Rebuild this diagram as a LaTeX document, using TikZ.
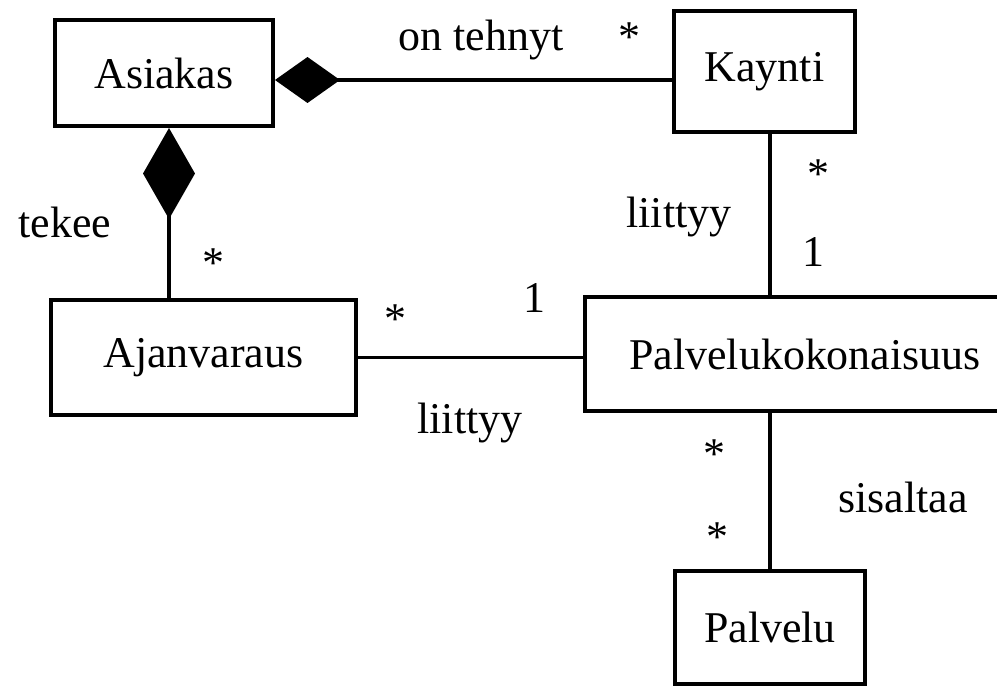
\documentclass[tikz,border=0pt]{standalone}
\usepackage{fontspec}
\setmainfont{Liberation Serif}
\usetikzlibrary{arrows.meta}

\begin{document}
\begin{tikzpicture}[
    x=0.02cm, y=-0.02cm,
    every node/.style={font=\fontsize{25}{30}\selectfont},
    box/.style={rectangle, draw, line width=2.3pt, inner sep=0pt},
    assoc/.style={line width=2.2pt},
    comph/.style={-{Diamond[length=1.3cm, width=0.92cm]}},
    compv/.style={-{Diamond[length=1.82cm, width=1.04cm]}},
    lbl/.style={anchor=base, inner sep=0pt}
]
\path[use as bounding box, clip] (0,0) rectangle (997,687);

% Classes
\node[box, minimum width=4.36cm, minimum height=2.12cm] (asiakas) at (164,73) {Asiakas};
\node[box, minimum width=3.62cm, minimum height=2.42cm] (kaynti) at (764.5,71.5) {Kaynti};
\node[box, minimum width=6.1cm, minimum height=2.3cm] (ajanvaraus) at (203.5,357.5) {Ajanvaraus};
\node[box, minimum width=8.8cm, minimum height=2.28cm] (pk) at (805,354) {Palvelukokonaisuus};
\node[box, minimum width=3.8cm, minimum height=2.26cm] (palvelu) at (770,627.5) {Palvelu};

% Associations
\draw[assoc, comph] ([yshift=-0.14cm]asiakas.east -| kaynti.west) -- ([yshift=-0.14cm]asiakas.east);
\draw[assoc, compv] ([xshift=0.1cm]asiakas.south |- ajanvaraus.north) -- ([xshift=0.1cm]asiakas.south);
\draw[assoc] (kaynti.south -| palvelu.north) -- (pk.north -| palvelu.north);
\draw[assoc] (ajanvaraus.east) -- (ajanvaraus.east -| pk.west);
\draw[assoc] (pk.south -| palvelu.north) -- (palvelu.north);

% Role names and multiplicities
\node[lbl] (l1) at (481,50) {on tehnyt};
\node[lbl] (m1) at (629,51) {*};
\node[lbl] (l2) at (65,237) {tekee};
\node[lbl] (m2) at (213,277) {*};
\node[lbl] (l3) at (679,227) {liittyy};
\node[lbl] (m3) at (818,188) {*};
\node[lbl] (m4) at (813,266) {1};
\node[lbl] (m5) at (395,333) {*};
\node[lbl] (m6) at (534,312) {1};
\node[lbl] (l4) at (470,433) {liittyy};
\node[lbl] (m7) at (714,468) {*};
\node[lbl] (m8) at (717,551) {*};
\node[lbl] (l5) at (903,512) {sisaltaa};

\end{tikzpicture}
\end{document}
